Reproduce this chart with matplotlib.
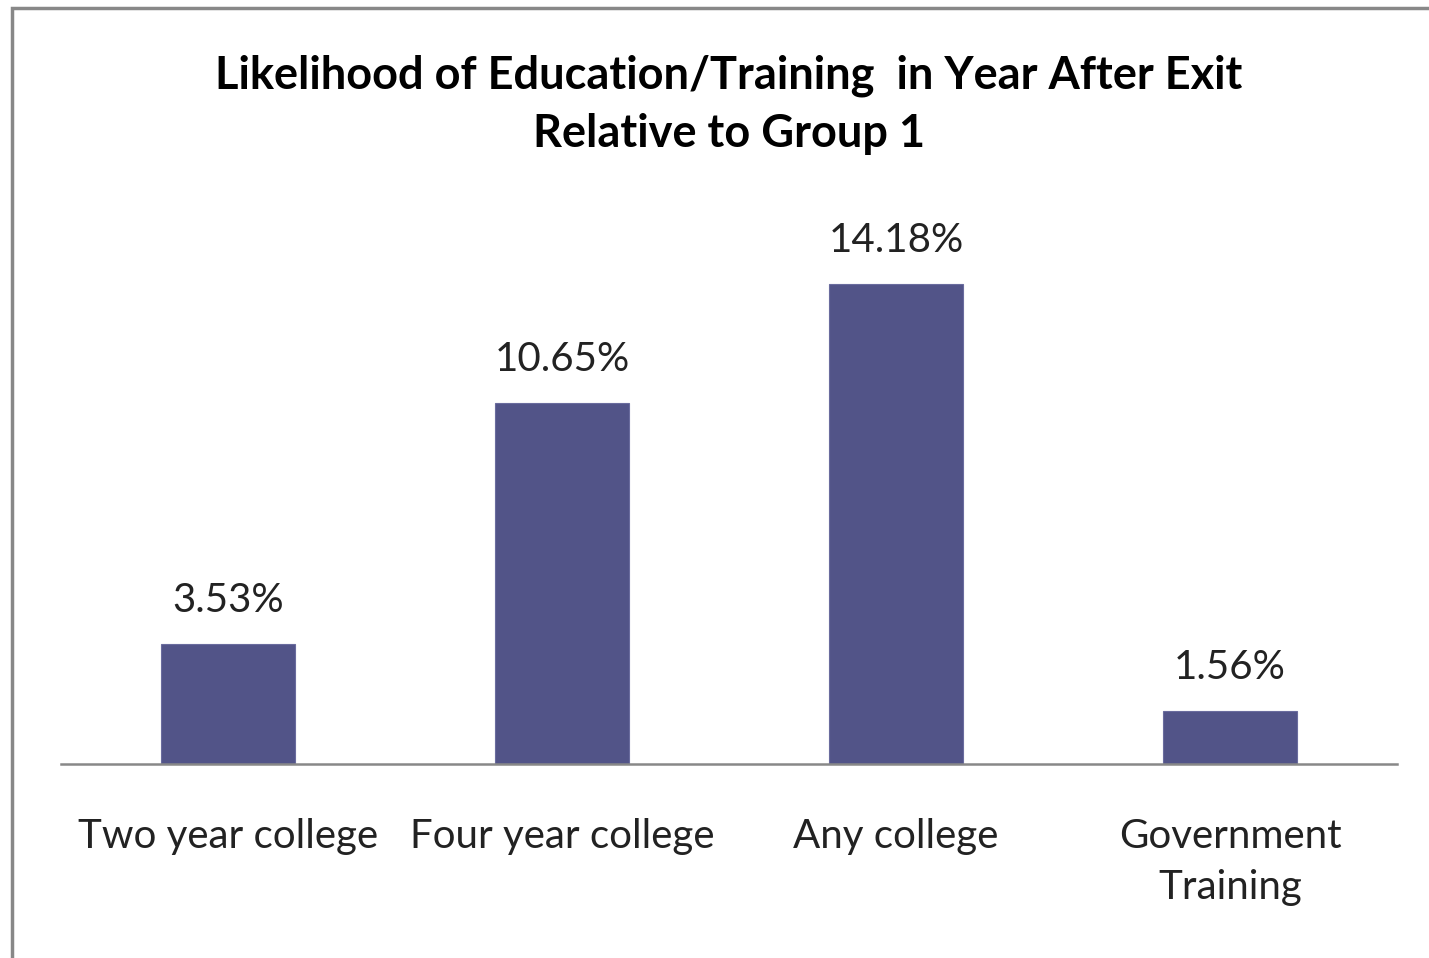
import matplotlib.pyplot as plt
from matplotlib.patches import Rectangle

# Likelihood of education/training in the year after exit, relative to group 1
categories = ["Two year college", "Four year college", "Any college", "Government\nTraining"]
values = [3.53, 10.65, 14.18, 1.56]
value_labels = ["3.53%", "10.65%", "14.18%", "1.56%"]

plt.rcParams['font.family'] = ['Lato', 'DejaVu Sans']

fig = plt.figure(figsize=(14.29, 9.58), dpi=100)
W, H = 1429, 958

# chart-area border (runs off the right and bottom edges)
fig.patches.append(Rectangle((12 / W, -0.05), 1.1, 1 - 8 / H + 0.05,
                             transform=fig.transFigure, fill=False,
                             edgecolor='#888888', linewidth=2.5))

ax = fig.add_axes([61 / W, 1 - 764 / H, (1397 - 61) / W, (764 - 222) / H])
x = range(len(categories))
ax.bar(x, values, width=0.4, color='#525488', edgecolor='#6a6c9e', linewidth=0.8)
ax.set_xlim(-0.5, 3.5)
ax.set_ylim(0, 16)

for xi, v, lab in zip(x, values, value_labels):
    ax.annotate(lab, (xi, v), xytext=(0, 18), textcoords='offset points',
                ha='center', va='bottom', fontsize=29, color='#222222')

ax.set_xticks(list(x))
ax.set_xticklabels(categories, fontsize=29, color='#222222', linespacing=1.45)
ax.tick_params(axis='x', length=0, pad=39)
ax.set_yticks([])
for s in ['top', 'right', 'left']:
    ax.spines[s].set_visible(False)
ax.spines['bottom'].set_color('#888888')
ax.spines['bottom'].set_linewidth(1.8)

fig.text(729 / W, 1 - 105 / H, "Likelihood of Education/Training  in Year After Exit\nRelative to Group 1",
         ha='center', va='center', fontsize=32.5, fontweight='bold', linespacing=1.47)

fig.savefig("out.png", dpi=100)
